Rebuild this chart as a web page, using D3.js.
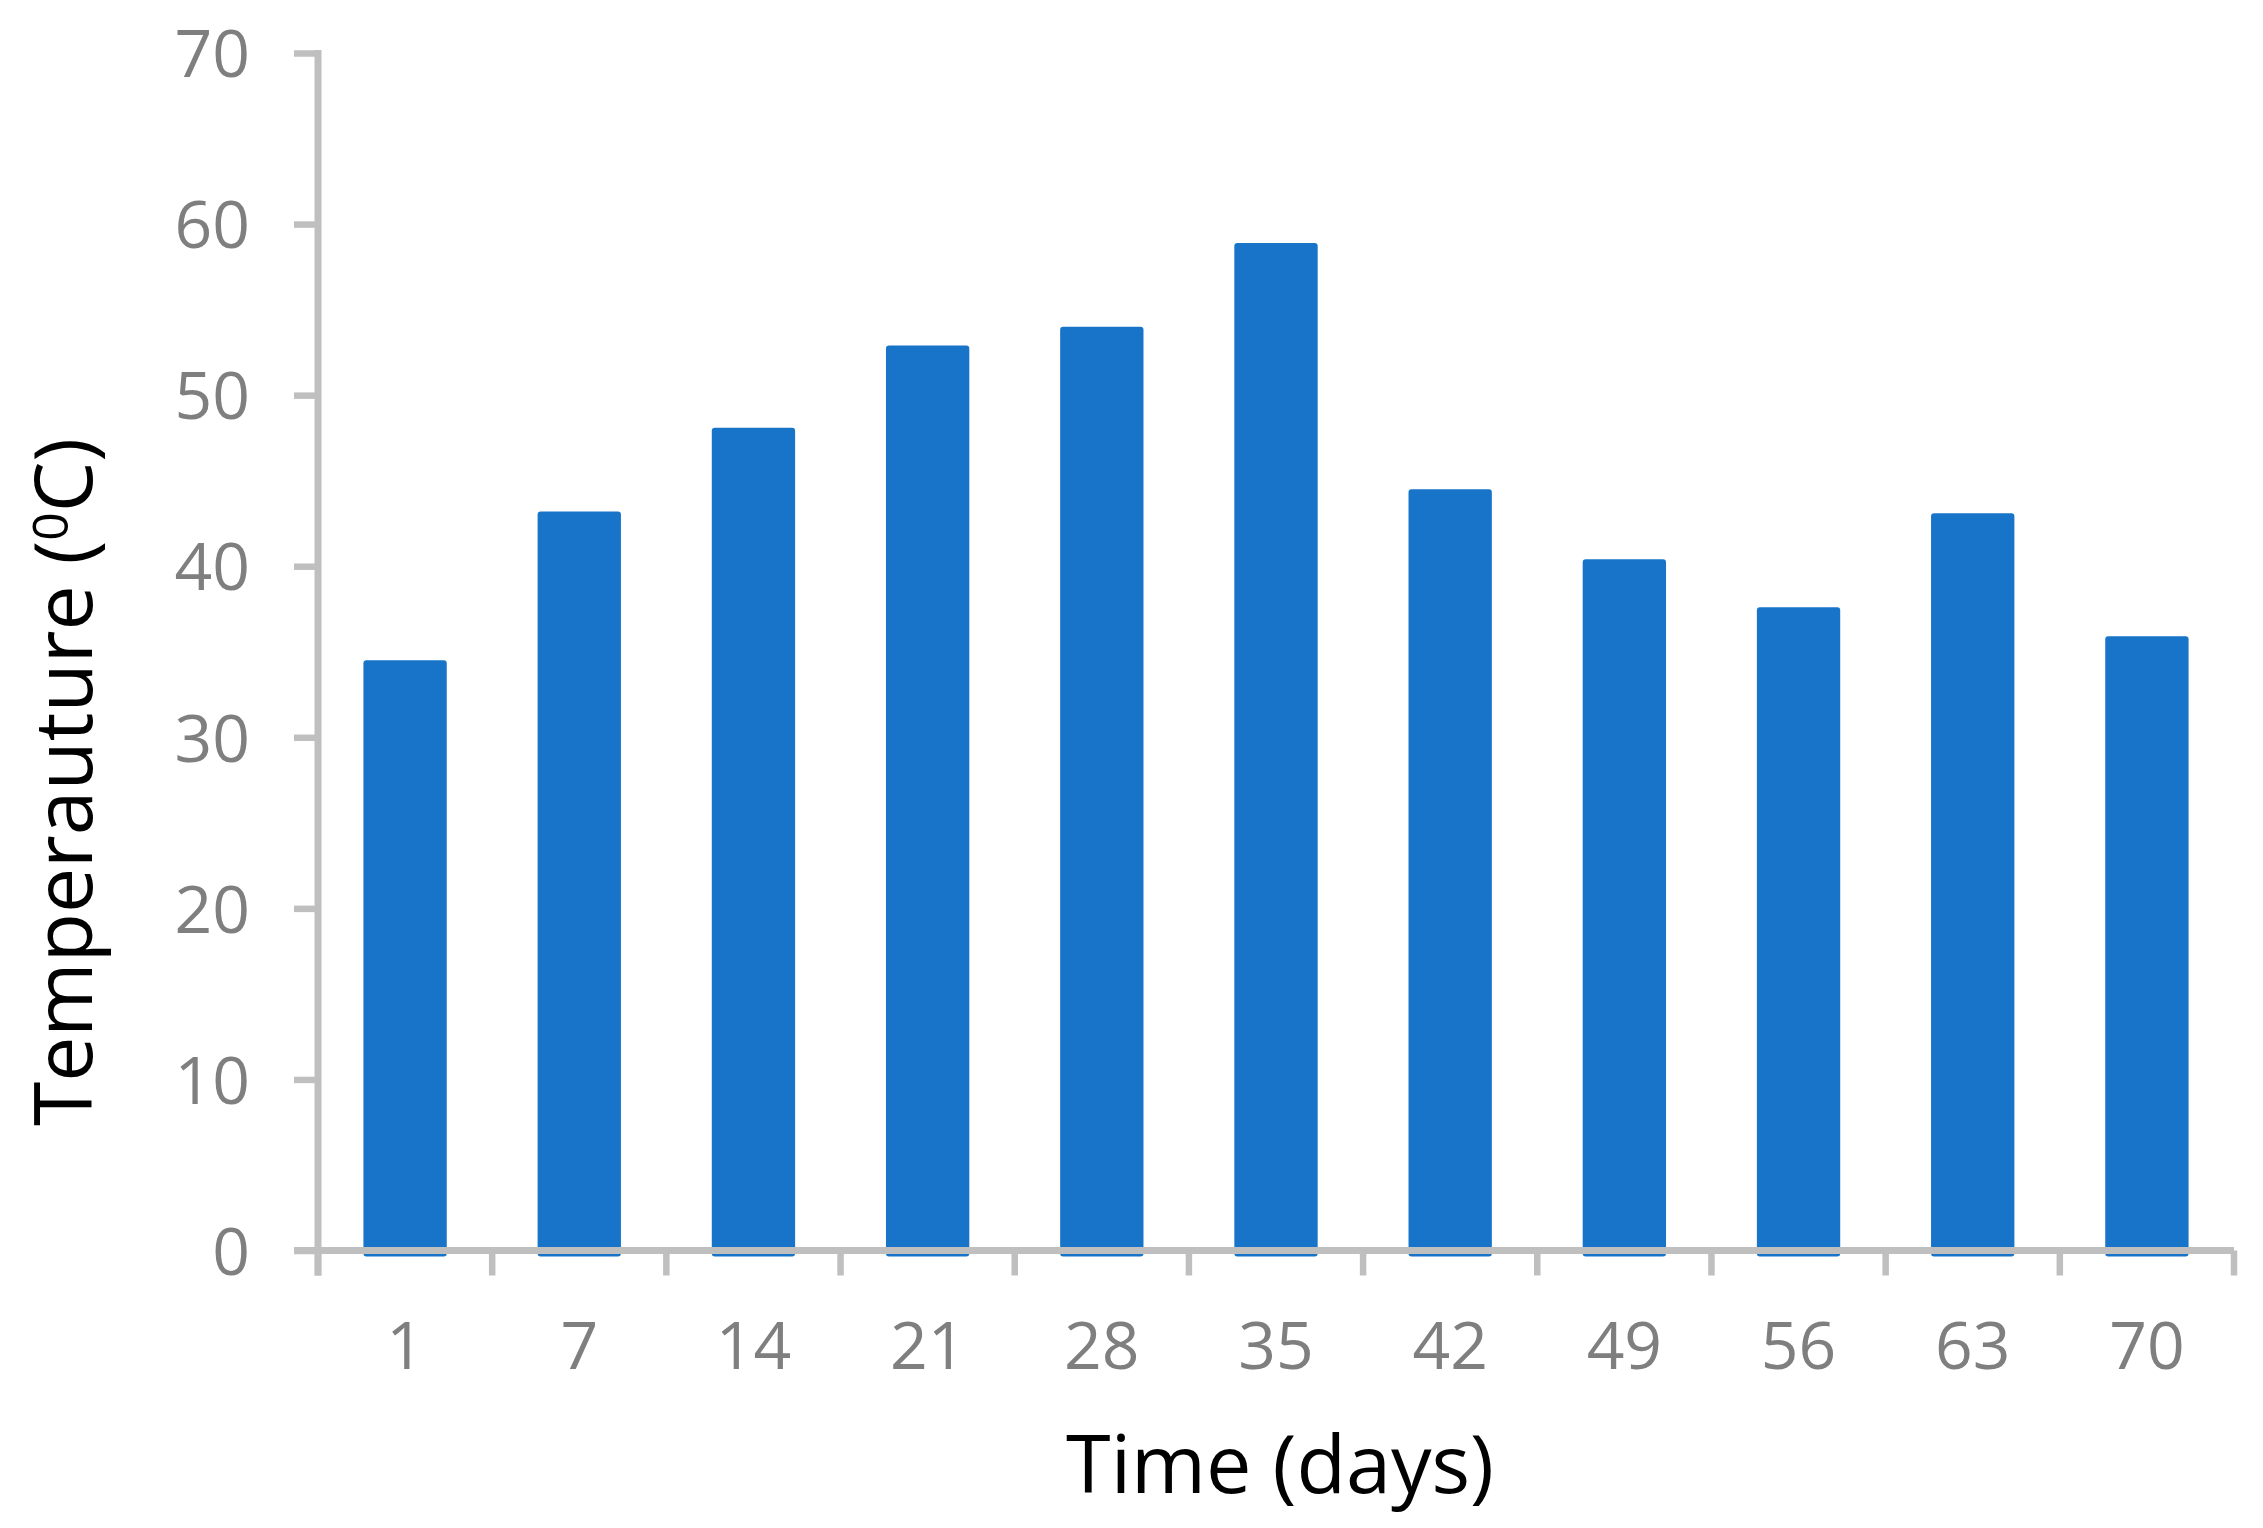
<!DOCTYPE html>
<html>
<head>
<meta charset="utf-8">
<script src="https://cdn.jsdelivr.net/npm/d3@7"></script>
<style>
  html, body { margin: 0; padding: 0; background: #ffffff; }
  svg { display: block; }
  text { font-family: "Open Sans", "Noto Sans", sans-serif; }
</style>
</head>
<body>
<svg id="chart" width="2263" height="1528"></svg>
<script>
// ---- data ----
const categories = ["1", "7", "14", "21", "28", "35", "42", "49", "56", "63", "70"];
const temperatures = [34.5, 43.2, 48.1, 52.9, 54.0, 58.9, 44.5, 40.4, 37.6, 43.1, 35.9];
const yTicks = [0, 10, 20, 30, 40, 50, 60, 70];
const xTitle = "Time (days)";
const yTitleMain = "Temperauture (";
const yTitleSup = "0";
const yTitleEnd = "C)";

// ---- layout ----
const W = 2263, H = 1528;
const plot = { left: 318, right: 2234, top: 53, bottom: 1250.5 };
const barColor = "#1874c8";
const axisColor = "#bfbfbf";
const tickTextColor = "#7f7f7f";
const barStroke = 6;

const svg = d3.select("#chart");

const x = d3.scaleBand()
  .domain(categories)
  .range([plot.left, plot.right])
  .paddingInner(0.556)
  .paddingOuter(0.278);

const y = d3.scaleLinear()
  .domain([0, 70])
  .range([plot.bottom, plot.top]);

// bars (inset by half the stroke so the outer edge sits at the value)
svg.append("g")
  .selectAll("rect")
  .data(temperatures)
  .join("rect")
  .attr("x", (d, i) => x(categories[i]))
  .attr("y", d => y(d) + barStroke / 2)
  .attr("width", x.bandwidth())
  .attr("height", d => y(0) - y(d))
  .attr("fill", barColor)
  .attr("stroke", barColor)
  .attr("stroke-width", barStroke)
  .attr("stroke-linejoin", "round");

// y axis
const yAxis = svg.append("g")
  .attr("transform", `translate(${plot.left},0)`)
  .call(d3.axisLeft(y).tickValues(yTicks).tickSize(24).tickPadding(44).tickFormat(d3.format("d")));
yAxis.select(".domain").remove();
yAxis.selectAll(".tick line").attr("stroke", axisColor).attr("stroke-width", 6.5);
yAxis.selectAll(".tick text")
  .attr("fill", tickTextColor)
  .attr("font-size", 66)
  .attr("dy", "0.36em");

// y axis line (extends down to x tick bottom)
svg.append("line")
  .attr("x1", plot.left).attr("x2", plot.left)
  .attr("y1", y(70) - 3).attr("y2", y(0) + 25)
  .attr("stroke", axisColor).attr("stroke-width", 7);

// x axis line
svg.append("line")
  .attr("x1", plot.left - 24).attr("x2", plot.right)
  .attr("y1", y(0)).attr("y2", y(0))
  .attr("stroke", axisColor).attr("stroke-width", 7);

// x ticks at band boundaries
const step = x.step();
const boundaries = categories.map(c => x(c) - (step - x.bandwidth()) / 2).concat([plot.right]);
svg.append("g").selectAll("line")
  .data(boundaries)
  .join("line")
  .attr("x1", d => d).attr("x2", d => d)
  .attr("y1", y(0)).attr("y2", y(0) + 25)
  .attr("stroke", axisColor).attr("stroke-width", 6.5);

// x labels
const xAxis = svg.append("g")
  .attr("transform", `translate(0,${y(0)})`)
  .call(d3.axisBottom(x).tickSize(0));
xAxis.select(".domain").remove();
xAxis.selectAll(".tick text")
  .attr("fill", tickTextColor)
  .attr("font-size", 66)
  .attr("y", 118.5)
  .attr("dy", 0);

// fit text to a target width
function fitFont(textSel, targetWidth, start) {
  let fs = start;
  textSel.attr("font-size", fs);
  for (let k = 0; k < 4; k++) {
    const w = textSel.node().getComputedTextLength();
    fs = fs * targetWidth / w;
    textSel.attr("font-size", fs);
  }
  return fs;
}

// x title
const xt = svg.append("text")
  .attr("x", 1280)
  .attr("y", 1493)
  .attr("text-anchor", "middle")
  .attr("fill", "#000")
  .text(xTitle);
fitFont(xt, 428, 80);

// y title
const yt = svg.append("text")
  .attr("transform", `translate(92,${782}) rotate(-90)`)
  .attr("text-anchor", "middle")
  .attr("fill", "#000");
yt.append("tspan").text(yTitleMain);
yt.append("tspan").attr("class", "sup").text(yTitleSup);
yt.append("tspan").attr("class", "end").text(yTitleEnd);
let fsY = 84;
for (let k = 0; k < 4; k++) {
  yt.attr("font-size", fsY);
  yt.select(".sup").attr("font-size", fsY * 0.62).attr("dy", -fsY * 0.30);
  yt.select(".end").attr("dy", fsY * 0.30);
  const w = yt.node().getComputedTextLength();
  fsY = fsY * 688 / w;
}
yt.attr("font-size", fsY);
yt.select(".sup").attr("font-size", fsY * 0.62).attr("dy", -fsY * 0.30);
yt.select(".end").attr("dy", fsY * 0.30);
</script>
</body>
</html>
